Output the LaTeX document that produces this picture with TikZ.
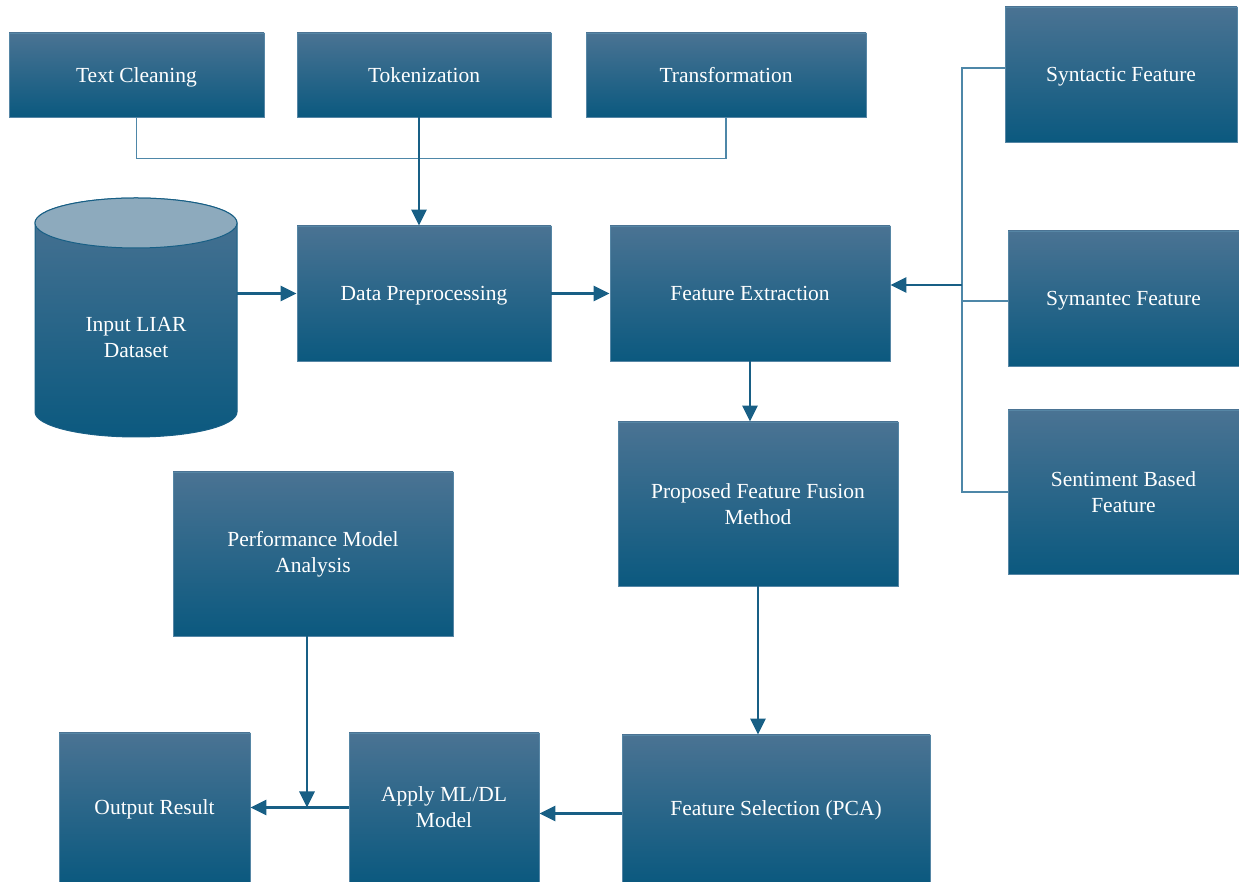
\documentclass[tikz,border=0pt]{standalone}
\usepackage{fontspec}
\setmainfont{Liberation Serif}
\usetikzlibrary{arrows.meta}
\definecolor{boxtop}{RGB}{74,115,147}
\definecolor{boxmid}{RGB}{24,99,136}
\definecolor{boxbot}{RGB}{11,89,127}
\definecolor{boxline}{RGB}{86,134,165}
\definecolor{cyltop}{RGB}{141,170,189}
\definecolor{flowcol}{RGB}{24,95,133}
\definecolor{buscol}{RGB}{78,135,168}
\tikzset{
  stage/.style={draw=boxline, line width=0.8pt, top color=boxtop, middle color=boxmid,
    bottom color=boxbot, text=white, align=center, inner sep=2pt,
    font=\fontsize{21.5}{26}\selectfont},
  oneline/.style={text depth=0pt},
  flow/.style={draw=flowcol, line width=2.8pt, -{Triangle[length=16pt,width=15pt]}},
  bus/.style={draw=buscol, line width=1.3pt}
}
\begin{document}
\begin{tikzpicture}[x=1pt,y=1pt]
      \useasboundingbox (0,0) rectangle (1239,882);
      % dataset cylinder
      \draw[draw=flowcol, line width=1pt, top color=boxtop, middle color=boxmid, bottom color=boxbot]
        (35,659) -- (35,470) arc[start angle=180, end angle=360, x radius=101, y radius=25]
        -- (237,659) arc[start angle=0, end angle=180, x radius=101, y radius=25] -- cycle;
      \draw[draw=flowcol, line width=1pt, fill=cyltop] (136,659) ellipse [x radius=101, y radius=25];
      \node[text=white, align=center, font=\fontsize{21.5}{26}\selectfont,
        minimum width=202pt, minimum height=239pt] (data) at (136,544) {Input LIAR\\Dataset};
      \path
        (136.5,807) node[stage, oneline, minimum width=255pt, minimum height=84pt] (clean){Text Cleaning}
        (424,807) node[stage, oneline, minimum width=254pt, minimum height=84pt] (token){Tokenization}
        (726,807) node[stage, oneline, minimum width=280pt, minimum height=84pt] (transf){Transformation}
        (1121,807.5) node[stage, oneline, minimum width=232pt, minimum height=135pt] (syntax){Syntactic Feature}
        (424,588.5) node[stage, oneline, minimum width=254pt, minimum height=135pt] (prep){Data Preprocessing}
        (750,588.5) node[stage, oneline, minimum width=280pt, minimum height=135pt] (extract){Feature Extraction}
        (1123.5,583.5) node[stage, oneline, minimum width=231pt, minimum height=135pt] (semantic){Symantec Feature}
        (758,378) node[stage, minimum width=280pt, minimum height=164pt] (fusion){Proposed Feature Fusion\\Method}
        (1123.5,390) node[stage, minimum width=231pt, minimum height=164pt] (sentiment){Sentiment Based\\Feature}
        (313,328) node[stage, minimum width=280pt, minimum height=164pt] (perf){Performance Model\\Analysis}
        (154.5,74.5) node[stage, oneline, minimum width=191pt, minimum height=149pt] (output){Output Result}
        (444,74.5) node[stage, minimum width=190pt, minimum height=149pt] (apply){Apply ML/DL\\Model}
        (776,73.5) node[stage, oneline, minimum width=308pt, minimum height=147pt] (select){Feature Selection (PCA)};
      \coordinate (bus) at (962,597);
      \begin{scope}[bus]
        \draw (clean.south) -- ++(0,-41) -| (transf.south);
        \draw ([yshift=6.5pt]syntax.west) -| (962,390) -- (sentiment.west);
        \draw ([yshift=-2.5pt]semantic.west) -- ++(-46,0);
      \end{scope}
      \begin{scope}[flow]
        \draw ([xshift=-5pt]token.south) -- ([xshift=-5pt]prep.north);
        \draw (prep.west -| data.east) -- (prep.west);
        \draw (prep.east) -- (extract.west);
        \draw (bus) -- (bus -| extract.east);
        \draw (extract.south) -- (extract.south |- fusion.north);
        \draw (fusion.south) -- (fusion.south |- select.north);
        \draw ([yshift=-5pt]select.west) -- ([yshift=-5pt]select.west -| apply.east);
        \draw (apply.west) -- (output.east);
        \draw ([xshift=-6pt]perf.south) -- ([xshift=-6pt]perf.south |- output.east);
      \end{scope}
    \end{tikzpicture}
\end{document}
